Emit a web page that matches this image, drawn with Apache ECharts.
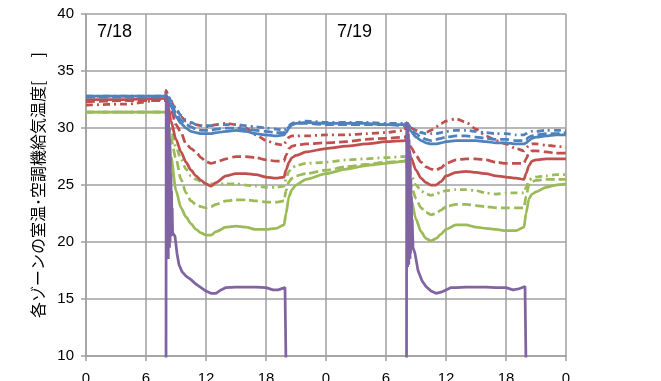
<!DOCTYPE html>
<html><head><meta charset="utf-8">
<script src="https://cdn.jsdelivr.net/npm/echarts@6/dist/echarts.min.js"></script>
<style>html,body{margin:0;padding:0;background:#fff}#c{width:661px;height:381px}</style>
</head><body><div id="c"></div>
<script>
// time axis (hours from 7/18 0:00)
const hours = [0, 4, 7.9, 8, 8.25, 8.5, 9, 9.5, 10, 10.5,
  11, 11.5, 12, 12.5, 13, 14, 15, 16, 17, 18,
  19, 19.8, 20, 20.3, 20.6, 21, 22, 24, 26, 28,
  30, 31.9, 32, 32.25, 32.5, 33, 33.5, 34, 34.5, 35,
  35.5, 36, 37, 38, 39, 40, 41, 42, 43, 43.8,
  44, 44.3, 44.6, 45, 46, 47, 48];

const blueSolid = [32.8, 32.8, 32.8, 32.9, 32.5, 31.9, 31.0, 30.4, 30.0, 29.7,
  29.6, 29.5, 29.5, 29.5, 29.6, 29.7, 29.8, 29.7, 29.5, 29.4,
  29.3, 29.4, 29.6, 30.0, 30.3, 30.4, 30.5, 30.4, 30.4, 30.4,
  30.3, 30.3, 30.4, 30.1, 29.7, 29.2, 28.9, 28.7, 28.6, 28.6,
  28.7, 28.8, 28.9, 28.9, 28.9, 28.8, 28.7, 28.7, 28.6, 28.6,
  28.7, 28.9, 29.1, 29.2, 29.3, 29.4, 29.4];
const blueDash = [32.7, 32.7, 32.7, 32.8, 32.5, 32.1, 31.3, 30.7, 30.3, 30.1,
  29.9, 29.8, 29.8, 29.8, 29.9, 30.0, 30.0, 29.9, 29.8, 29.7,
  29.6, 29.6, 29.8, 30.1, 30.3, 30.4, 30.4, 30.3, 30.3, 30.3,
  30.3, 30.2, 30.3, 30.1, 29.8, 29.5, 29.2, 29.0, 28.9, 29.0,
  29.1, 29.2, 29.3, 29.3, 29.2, 29.1, 29.0, 29.0, 28.9, 28.9,
  29.0, 29.2, 29.3, 29.4, 29.5, 29.5, 29.6];
const blueDot = [32.8, 32.8, 32.8, 33.0, 32.7, 32.4, 31.7, 31.1, 30.7, 30.5,
  30.3, 30.2, 30.2, 30.2, 30.3, 30.3, 30.3, 30.2, 30.1, 30.0,
  29.9, 29.8, 29.9, 30.2, 30.4, 30.5, 30.6, 30.5, 30.5, 30.5,
  30.4, 30.4, 30.5, 30.3, 30.0, 29.8, 29.6, 29.5, 29.5, 29.5,
  29.6, 29.7, 29.8, 29.8, 29.7, 29.6, 29.5, 29.5, 29.4, 29.4,
  29.5, 29.6, 29.7, 29.7, 29.8, 29.8, 29.8];

const redSolid = [32.5, 32.5, 32.6, 32.7, 31.8, 30.6, 29.0, 27.9, 27.0, 26.3,
  25.8, 25.4, 25.1, 24.9, 25.2, 25.8, 26.0, 26.0, 25.9, 25.7,
  25.6, 25.7, 26.3, 27.0, 27.4, 27.6, 27.9, 28.2, 28.4, 28.6,
  28.8, 28.9, 29.0, 28.2, 27.4, 26.3, 25.6, 25.2, 25.0, 25.0,
  25.3, 25.8, 26.1, 26.2, 26.1, 26.0, 25.8, 25.7, 25.6, 25.5,
  26.0, 26.7, 27.1, 27.2, 27.3, 27.3, 27.3];
const redDash = [32.3, 32.4, 32.4, 33.0, 32.4, 31.6, 30.3, 29.6, 28.6, 28.2,
  27.9, 27.4, 27.05, 26.9, 27.0, 27.3, 27.5, 27.5, 27.4, 27.2,
  27.1, 27.1, 27.6, 28.2, 28.4, 28.5, 28.6, 28.7, 28.8, 29.0,
  29.1, 29.2, 29.3, 28.8, 28.3, 27.6, 27.0, 26.6, 26.4, 26.3,
  26.5, 26.9, 27.2, 27.3, 27.3, 27.2, 27.0, 26.9, 26.9, 26.9,
  27.3, 27.8, 28.0, 28.0, 27.9, 27.8, 27.8];
const redDot = [32.0, 32.1, 32.5, 33.3, 32.8, 32.3, 31.6, 31.0, 30.6, 30.4,
  30.3, 30.2, 30.1, 30.2, 30.3, 30.4, 30.3, 30.0, 29.4, 28.9,
  28.6, 28.5, 28.8, 29.2, 29.3, 29.3, 29.3, 29.4, 29.4, 29.5,
  29.6, 29.8, 30.6, 30.3, 30.0, 29.8, 29.6, 29.6, 29.8, 30.1,
  30.4, 30.6, 30.8, 30.5, 29.9, 29.3, 28.9, 28.6, 28.2, 28.0,
  28.2, 28.5, 28.6, 28.6, 28.5, 28.4, 28.3];

const greenSolid = [31.4, 31.4, 31.4, 31.3, 29.8, 27.5, 24.5, 23.0, 22.2, 21.6,
  21.1, 20.8, 20.6, 20.6, 20.9, 21.3, 21.4, 21.3, 21.1, 21.1,
  21.2, 21.5, 22.5, 24.0, 24.6, 25.0, 25.5, 26.0, 26.4, 26.7,
  26.9, 27.1, 27.2, 25.5, 23.8, 22.0, 20.9, 20.3, 20.1, 20.3,
  20.7, 21.1, 21.5, 21.5, 21.3, 21.2, 21.1, 21.0, 21.0, 21.3,
  22.5, 23.8, 24.2, 24.4, 24.8, 25.0, 25.1];
const greenDash = [31.4, 31.4, 31.4, 31.3, 30.2, 29.0, 27.3, 25.5, 24.3, 23.6,
  23.3, 23.1, 23.0, 23.1, 23.3, 23.6, 23.7, 23.7, 23.6, 23.5,
  23.5, 23.6, 24.5, 25.3, 25.6, 25.8, 26.0, 26.3, 26.6, 26.8,
  27.0, 27.1, 27.2, 26.0, 25.0, 23.8, 23.0, 22.6, 22.4, 22.5,
  22.8, 23.1, 23.3, 23.3, 23.2, 23.1, 23.0, 23.0, 23.0, 23.0,
  24.0, 25.0, 25.3, 25.4, 25.5, 25.5, 25.5];
const greenDot = [31.4, 31.4, 31.4, 31.3, 30.6, 29.8, 28.3, 27.3, 26.4, 25.8,
  25.5, 25.3, 25.2, 25.1, 25.1, 25.1, 25.1, 25.0, 24.9, 24.8,
  24.8, 24.9, 25.6, 26.2, 26.5, 26.7, 26.9, 27.0, 27.2, 27.3,
  27.4, 27.5, 27.5, 26.6, 25.9, 25.0, 24.5, 24.2, 24.1, 24.2,
  24.4, 24.5, 24.6, 24.6, 24.5, 24.3, 24.2, 24.3, 24.3, 24.3,
  24.8, 25.4, 25.6, 25.7, 25.8, 25.9, 25.9];

// supply air temperature (air handler running 8:00-20:00)
const purpleHours = [8.0, 8.02, 8.05, 8.08, 8.11, 8.14, 8.17, 8.2, 8.23, 8.26,
  8.29, 8.32, 8.35, 8.38, 8.41, 8.44, 8.47, 8.5, 8.53, 8.56,
  8.59, 8.62, 8.66, 8.9, 9.1, 9.3, 9.6, 10, 10.5, 11,
  11.5, 12, 12.5, 13, 13.5, 14, 15, 16, 17, 18,
  18.7, 19.2, 19.9, 20.05, 20.06, 26,
  32.05, 32.07, 32.1, 32.13, 32.16, 32.19, 32.22, 32.25, 32.28, 32.31,
  32.34, 32.37, 32.4, 32.43, 32.46, 32.49, 32.52, 32.55, 32.58, 32.62,
  32.7, 32.9, 33.2, 33.6, 34, 34.5, 35, 35.5, 36, 36.5,
  37, 38, 39, 40, 41, 42, 42.7, 43.3, 43.9, 44.05,
  44.06];
const purpleTemps = [5, 32.5, 19, 32.8, 18.5, 32, 19, 31.5, 18.5, 31,
  19.5, 30, 19.5, 29, 20, 27.5, 20.5, 26, 20.5, 24.5,
  21, 23, 20.8, 20.5, 19.0, 18.0, 17.4, 17.0, 16.7, 16.3,
  16.0, 15.7, 15.5, 15.5, 15.8, 16.0, 16.05, 16.05, 16.05, 16.0,
  15.8, 15.8, 16.0, 16.0, 5, null,
  5, 30.4, 18, 30.5, 17.8, 30, 18.5, 29.5, 18, 29,
  19, 28, 18.5, 27, 19, 25.5, 19.5, 24, 19.5, 22,
  19.5, 19.0, 17.5, 16.6, 16.1, 15.7, 15.5, 15.6, 15.8, 16.0,
  16.0, 16.05, 16.05, 16.05, 16.0, 16.0, 15.8, 15.9, 16.1, 16.1,
  5];

const dateLabels = ['7/18', '7/19'];

const BLUE = '#4F81BD', RED = '#C0504D', GREEN = '#9BBB59', PURPLE = '#8064A2';
const GRID = '#a0a0a0';
const DASH = [9, 4];
const DASHDOT = [7, 4, 2, 4];

function pairs(xs, ys) { return xs.map((x, i) => [x, ys[i]]); }
function line(name, ys, color, type, xs) {
  return {
    name: name, type: 'line', data: pairs(xs || hours, ys),
    showSymbol: false, symbol: 'none', smooth: 0.25, smoothMonotone: 'x',
    clip: true, connectNulls: false,
    lineStyle: { color: color, width: 2.75, type: type },
    emphasis: { disabled: true }
  };
}

const chart = echarts.init(document.getElementById('c'), null, { renderer: 'canvas' });
const axisTxt = { color: '#000', fontSize: 15, fontFamily: 'Liberation Sans' };
chart.setOption({
  animation: false,
  backgroundColor: '#fff',
  grid: { left: 86, right: 95, top: 14, bottom: 25, containLabel: false, outerBoundsMode: 'none' },
  xAxis: {
    type: 'value', min: 0, max: 48, interval: 6,
    axisLine: { show: true, lineStyle: { color: GRID, width: 1.5 } },
    axisTick: { show: true, length: 5, lineStyle: { color: GRID, width: 1.5 } },
    axisLabel: Object.assign({ margin: 15, formatter: v => String(v % 24) }, axisTxt),
    splitLine: { show: true, lineStyle: { color: GRID, width: 1.5 } }
  },
  yAxis: {
    type: 'value', min: 10, max: 40, interval: 5,
    name: '各ゾーンの室温･空調機給気温度[ 　 ]', nameLocation: 'middle', nameGap: 38, nameRotate: 90,
    nameTextStyle: { fontSize: 16, fontFamily: 'Noto Sans CJK JP', color: '#000' },
    axisLine: { show: true, lineStyle: { color: GRID, width: 1.5 } },
    axisTick: { show: true, length: 5, lineStyle: { color: GRID, width: 1.5 } },
    axisLabel: Object.assign({ margin: 12 }, axisTxt),
    splitLine: { show: true, lineStyle: { color: GRID, width: 1.5 } }
  },
  graphic: [
    { type: 'text', x: 97, y: 23, style: { text: dateLabels[0], font: '18px "Liberation Sans"', fill: '#000', textBaseline: 'top' } },
    { type: 'text', x: 337, y: 23, style: { text: dateLabels[1], font: '18px "Liberation Sans"', fill: '#000', textBaseline: 'top' } }
  ],
  series: [
    line('G3', greenDot, GREEN, DASHDOT),
    line('G2', greenDash, GREEN, DASH),
    line('G1', greenSolid, GREEN, 'solid'),
    line('R3', redDot, RED, DASHDOT),
    line('R2', redDash, RED, DASH),
    line('R1', redSolid, RED, 'solid'),
    line('B3', blueDot, BLUE, DASHDOT),
    line('B2', blueDash, BLUE, DASH),
    line('B1', blueSolid, BLUE, 'solid'),
    Object.assign(line('P', purpleTemps, PURPLE, 'solid', purpleHours), { smooth: false })
  ]
});
</script></body></html>
